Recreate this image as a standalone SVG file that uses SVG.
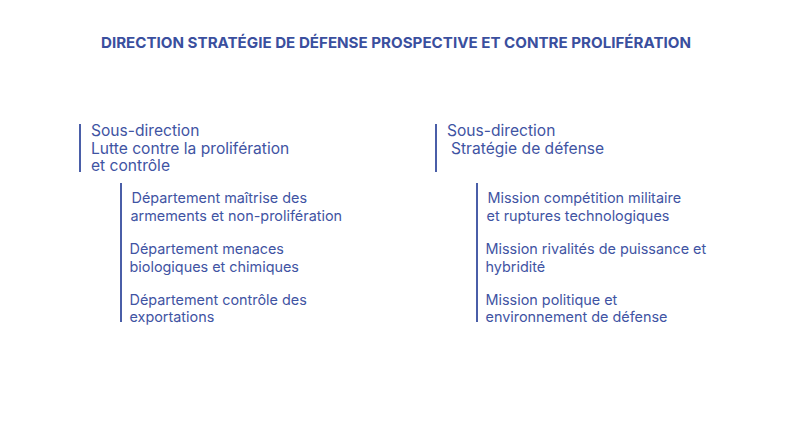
<svg xmlns="http://www.w3.org/2000/svg" width="792" height="445" viewBox="0 0 792 445">
<style>
.title{font-family:Inter,"Open Sans","Liberation Sans",sans-serif;font-weight:700;font-size:15px;fill:#3a4f9e}
.h{font-family:Inter,"Open Sans","Liberation Sans",sans-serif;font-size:15.6px;fill:#3f54a3}
.t{font-family:Inter,"Open Sans","Liberation Sans",sans-serif;font-size:14.4px;fill:#3f54a3}
.bar{stroke:#4a5ea8;stroke-width:2;fill:none}
</style>
<rect width="792" height="445" fill="#ffffff"/>
<g id="title"><text class="title" x="101" y="47.5" textLength="590" lengthAdjust="spacingAndGlyphs">DIRECTION STRATÉGIE DE DÉFENSE PROSPECTIVE ET CONTRE PROLIFÉRATION</text></g>
<g id="connectors">
<line class="bar" x1="80" y1="124" x2="80" y2="172"/>
<line class="bar" x1="121" y1="183" x2="121" y2="322"/>
<line class="bar" x1="436" y1="124" x2="436" y2="172"/>
<line class="bar" x1="477" y1="183" x2="477" y2="322"/>
</g>
<g id="sd-lutte"><text class="h" x="91" y="136">Sous-direction</text><text class="h" x="91" y="153.5">Lutte contre la prolifération</text><text class="h" x="91" y="171">et contrôle</text></g>
<g id="dep-maitrise"><text class="t" x="131.5" y="203">Département maîtrise des</text><text class="t" x="130.5" y="220.5">armements et non-prolifération</text></g>
<g id="dep-menaces"><text class="t" x="129.5" y="254">Département menaces</text><text class="t" x="129.5" y="271.5">biologiques et chimiques</text></g>
<g id="dep-controle"><text class="t" x="129.5" y="305">Département contrôle des</text><text class="t" x="129.5" y="322">exportations</text></g>
<g id="sd-strategie"><text class="h" x="447" y="136">Sous-direction</text><text class="h" x="451" y="153.5">Stratégie de défense</text></g>
<g id="mis-competition"><text class="t" x="487.5" y="203">Mission compétition militaire</text><text class="t" x="486.5" y="220.5">et ruptures technologiques</text></g>
<g id="mis-rivalites"><text class="t" x="485.5" y="254">Mission rivalités de puissance et</text><text class="t" x="485.5" y="271.5">hybridité</text></g>
<g id="mis-politique"><text class="t" x="485.5" y="305">Mission politique et</text><text class="t" x="485.5" y="322">environnement de défense</text></g>
</svg>
